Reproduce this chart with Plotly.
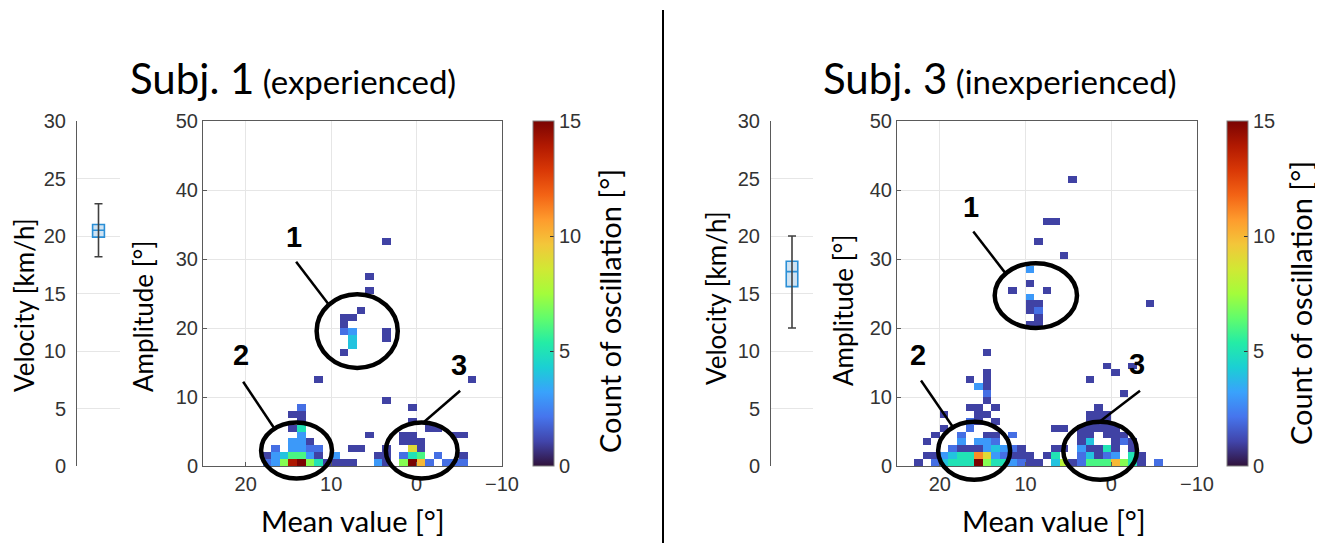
import numpy as np
import plotly.graph_objects as go

W, H = 1323, 551
OFF = 8                       # default page margin of the html body
FW, FH = W - OFF, H - 2 * OFF  # figure size so that it fits the window exactly

# ---------------- data ----------------
# velocity box statistics [km/h]
vel1_stats = dict(lower=18.2, q1=19.9, median=20.5, q3=21.0, upper=22.8)
vel3_stats = dict(lower=12.0, q1=15.6, median=16.9, q3=17.8, upper=20.0)

# 2-D histogram cells: bin lower edge of mean value [deg], bin lower edge of amplitude [deg], count
subj1_mean = [3, 5, 5, 6, 8, 7, 8, 8, 7, 7, 7, 8, 3, 3, 11, -7, 3, 0, 0,
              13, 14, 13, 13, 14, 13, 13, 14, 13, 12,
              16, 14, 13, 12, 11,
              17, 16, 15, 14, 13, 12, 11, 9,
              17, 16, 15, 14, 13, 12, 11, 10, 9, 8, 7,
              -2, -3, 5, 1, 0, -5, -6, 1, 0, -1,
              7, 6, 3, 0, -1,
              4, 3, 1, 0, -1, -3, -6,
              4, 3, 1, 0, -1, -2, -4, -5, -6]
subj1_amp = [32, 27, 25, 22, 21, 21, 20, 19, 19, 18, 17, 16, 19, 18, 12, 12, 9, 8, 6,
             8, 7, 7, 6, 5, 5, 4, 3, 3, 3,
             2, 2, 2, 2, 2,
             1, 1, 1, 1, 1, 1, 1, 1,
             0, 0, 0, 0, 0, 0, 0, 0, 0, 0, 0,
             5, 5, 4, 4, 4, 4, 4, 3, 3, 3,
             2, 2, 2, 2, 2,
             1, 1, 1, 1, 1, 1, 1,
             0, 0, 0, 0, 0, 0, 0, 0, 0]
subj1_count = [1, 1, 1, 1, 1, 1, 1, 2, 3, 4, 4, 1, 1, 1, 1, 1, 1, 1, 1,
               2, 1, 1, 1, 1, 5, 3, 3, 3, 1,
               2, 3, 3, 2, 2,
               1, 3, 4, 6, 6, 3, 1, 3,
               2, 3, 7, 14, 15, 7, 5, 1, 1, 1, 1,
               1, 1, 1, 1, 1, 1, 1, 1, 1, 1,
               1, 1, 1, 9, 1,
               1, 1, 2, 5, 6, 2, 1,
               3, 1, 7, 15, 10, 2, 2, 2, 2]

subj3_mean = [4, 7, 6, 8, 5, 9, 9, 11, 7, 9, 9, 8, 9, 8, 8, 9, 8, -5,
              14, 14, 16, 14, 15, 14, 14, 14,
              16, 15, 13, 19, 15, 14, 16, 15, 13, 19, 16,
              20, 17, 14, 13, 11,
              21, 17, 15, 14, 13,
              18, 17, 16, 15, 14, 13, 12, 11, 10,
              21, 20, 19, 18, 17, 16, 15, 14, 13, 12, 11, 10, 9,
              22, 20, 19, 18, 17, 16, 15, 14, 13, 12, 11, 10, 9, 8,
              0, -3, -1, 2, -2, 1, 2, 1, 0, 2, 1, 0,
              6, 5, 3, 2, 1, 0, -1, 3, 2, 0, -1, -2,
              3, 2, -1, -2, -3,
              6, 5, 3, 2, 1, 0, -1, -3,
              7, 6, 3, 2, 1, 0, -1, -3, -4,
              6, 5, 4, 3, 2, 1, 0, -1, -2, -3, -4, -6]
subj3_amp = [41, 35, 35, 32, 30, 28, 26, 25, 25, 24, 23, 23, 22, 22, 21, 20, 20, 23,
             16, 13, 12, 12, 11, 11, 10, 9,
             8, 8, 8, 7, 7, 7, 6, 6, 6, 5, 5,
             4, 4, 4, 4, 4,
             3, 3, 3, 3, 3,
             2, 2, 2, 2, 2, 2, 2, 2, 2,
             1, 1, 1, 1, 1, 1, 1, 1, 1, 1, 1, 1, 1,
             0, 0, 0, 0, 0, 0, 0, 0, 0, 0, 0, 0, 0, 0,
             14, 14, 13, 12, 10, 8, 7, 7, 7, 6, 6, 6,
             5, 5, 5, 5, 5, 5, 5, 4, 4, 4, 4, 4,
             3, 3, 3, 3, 3,
             2, 2, 2, 2, 2, 2, 2, 2,
             1, 1, 1, 1, 1, 1, 1, 1, 1,
             0, 0, 0, 0, 0, 0, 0, 0, 0, 0, 0, 0]
subj3_count = [1, 1, 1, 1, 1, 3, 1, 1, 1, 3, 1, 1, 1, 2, 1, 1, 1, 1,
               1, 1, 1, 1, 3, 1, 2, 1,
               1, 1, 1, 1, 1, 1, 2, 1, 1, 1, 2,
               1, 2, 1, 1, 2,
               1, 3, 3, 3, 2,
               2, 1, 1, 1, 3, 4, 3, 2, 1,
               1, 1, 3, 4, 5, 5, 11, 9, 3, 2, 1, 1, 1,
               1, 2, 4, 5, 5, 5, 15, 7, 5, 5, 3, 2, 1, 1,
               1, 1, 1, 1, 1, 1, 1, 1, 1, 1, 1, 1,
               1, 1, 1, 1, 1, 1, 1, 1, 1, 1, 1, 1,
               1, 4, 1, 2, 1,
               1, 1, 3, 1, 1, 5, 1, 1,
               1, 5, 2, 4, 1, 2, 3, 5, 1,
               4, 8, 1, 2, 6, 6, 6, 10, 7, 5, 1, 2]

mean_edges = list(range(-10, 26))   # mean value bins [deg]
amp_edges = list(range(0, 51))      # amplitude bins [deg]

def grid(means, amps, counts):
    xc = [e + 0.5 for e in mean_edges[:-1]]
    yc = [e + 0.5 for e in amp_edges[:-1]]
    z = np.full((len(yc), len(xc)), np.nan)
    for m, a, c in zip(means, amps, counts):
        z[a - amp_edges[0], m - mean_edges[0]] = c
    return xc, yc, z

# ---------------- layout helpers (window pixel -> paper fraction) ----------------
def fx(p):
    return (p - OFF) / FW

def fy(p):
    return 1 - (p - OFF) / FH

TOP, BOT = 121, 466
YDOM = [fy(BOT), fy(TOP)]
BOX1 = [77, 120]
HM1 = [203, 502]
BOX2 = [771, 813]
HM2 = [897, 1197]
XR = [25, -10]
YR = [0, 50]

TICKFONT = dict(family="Liberation Sans, Arial", size=20, color="#333333")

def hx(dom, v):
    return fx(dom[0] + (XR[0] - v) / (XR[0] - XR[1]) * (dom[1] - dom[0]))

def hy(a):
    return fy(BOT - (a - YR[0]) / (YR[1] - YR[0]) * (BOT - TOP))

fig = go.Figure()

def add_box(stats, xa, ya):
    fig.add_trace(go.Scatter(
        x=[0], y=[stats["median"]], mode="markers", marker=dict(size=1, color="rgba(0,0,0,0)"),
        error_y=dict(type="data", symmetric=False,
                     array=[stats["upper"] - stats["median"]],
                     arrayminus=[stats["median"] - stats["lower"]],
                     color="#404040", thickness=1.6, width=4),
        xaxis=xa, yaxis=ya, showlegend=False, hoverinfo="skip"))
    fig.add_trace(go.Box(
        x=[0], q1=[stats["q1"]], median=[stats["median"]], q3=[stats["q3"]],
        lowerfence=[stats["q1"]], upperfence=[stats["q3"]],
        width=0.55, fillcolor="#cfe3f3", line=dict(color="#2b8fd6", width=1.6),
        whiskerwidth=0, xaxis=xa, yaxis=ya, showlegend=False, hoverinfo="skip"))

def add_heat(means, amps, counts, xa, ya, cbx):
    xc, yc, z = grid(means, amps, counts)
    fig.add_trace(go.Heatmap(
        x=xc, y=yc, z=z, zmin=0, zmax=15, colorscale="Turbo",
        xaxis=xa, yaxis=ya, hoverongaps=False,
        colorbar=dict(x=fx(cbx), xanchor="left", xpad=0, ypad=0,
                      y=fy(BOT), yanchor="bottom", len=BOT - TOP, lenmode="pixels",
                      thickness=21, thicknessmode="pixels",
                      outlinecolor="#808080", outlinewidth=1,
                      tickvals=[0, 5, 10, 15], ticks="inside", ticklen=4, tickcolor="#333",
                      tickfont=TICKFONT)))

add_box(vel1_stats, "x", "y")
add_heat(subj1_mean, subj1_amp, subj1_count, "x2", "y2", 533)
add_box(vel3_stats, "x3", "y3")
add_heat(subj3_mean, subj3_amp, subj3_count, "x4", "y4", 1227)

box_x = dict(range=[-1, 1], visible=False, fixedrange=True)
box_y = dict(range=[0, 30], tickvals=[0, 5, 10, 15, 20, 25, 30], showgrid=True,
             gridcolor="#e6e6e6", gridwidth=1, showline=True, linecolor="#5a5a5a", linewidth=1,
             ticks="", tickfont=TICKFONT, zeroline=False, ticklabelstandoff=6)
hm_x = dict(range=XR, tickvals=[20, 10, 0, -10], showgrid=True, gridcolor="#e6e6e6",
            showline=True, mirror=True, linecolor="#5a5a5a", linewidth=1,
            ticks="inside", ticklen=4, tickcolor="#5a5a5a", tickfont=TICKFONT, zeroline=False)
hm_y = dict(range=YR, tickvals=[0, 10, 20, 30, 40, 50], showgrid=True, gridcolor="#e6e6e6",
            showline=True, mirror=True, linecolor="#5a5a5a", linewidth=1,
            ticks="inside", ticklen=4, tickcolor="#5a5a5a", tickfont=TICKFONT, zeroline=False)

fig.update_layout(
    width=FW, height=FH, margin=dict(l=0, r=0, t=0, b=0, autoexpand=False),
    paper_bgcolor="white", plot_bgcolor="white",
    xaxis=dict(domain=[fx(BOX1[0]), fx(BOX1[1])], anchor="y", **box_x),
    yaxis=dict(domain=YDOM, anchor="x", **box_y),
    xaxis2=dict(domain=[fx(HM1[0]), fx(HM1[1])], anchor="y2", **hm_x),
    yaxis2=dict(domain=YDOM, anchor="x2", **hm_y),
    xaxis3=dict(domain=[fx(BOX2[0]), fx(BOX2[1])], anchor="y3", **box_x),
    yaxis3=dict(domain=YDOM, anchor="x3", **box_y),
    xaxis4=dict(domain=[fx(HM2[0]), fx(HM2[1])], anchor="y4", **hm_x),
    yaxis4=dict(domain=YDOM, anchor="x4", **hm_y),
)

ann = []
def text(x, y, s, size=26, angle=0, family="Lato, Carlito, Calibri"):
    ann.append(dict(x=x, y=y, xref="paper", yref="paper", text=s, showarrow=False,
                    textangle=angle, xanchor="center", yanchor="middle",
                    font=dict(family=family, size=size, color="black")))

# titles
text(fx(293), fy(78), "<span style='font-size:42px'>Subj. 1</span> (experienced)", size=33)
text(fx(1000), fy(78), "<span style='font-size:42px'>Subj. 3</span> (inexperienced)", size=33)
# axis labels
text(fx(24), fy(305), "Velocity [km/h]", angle=-90)
text(fx(143), fy(317), "Amplitude [°]", angle=-90)
text(fx(353), fy(520), "Mean value [°]", size=29)
text(fx(609), fy(311), "Count of oscillation [°]", size=29, angle=-90)
text(fx(716), fy(298), "Velocity [km/h]", angle=-90)
text(fx(843), fy(311), "Amplitude [°]", angle=-90)
text(fx(1054), fy(520), "Mean value [°]", size=29)
text(fx(1300), fy(303), "Count of oscillation [°]", size=29, angle=-90)

# cluster callouts: (label position, line start, line end, ellipse box) in data units
callouts1 = [("1", (14.4, 33.2), (14.1, 29.6), (10.35, 23.5), (11.7, 2.2, 14.2, 24.9)),
             ("2", (20.6, 16.1), (20.3, 12.2), (16.7, 5.55), (18.2, 9.9, -1.8, 6.3)),
             ("3", (-5.0, 14.6), (-5.1, 10.9), (-0.8, 6.3), (3.6, -4.8, -1.8, 6.3))]
callouts3 = [("1", (16.4, 37.6), (16.1, 34.0), (12.2, 27.7), (13.6, 4.0, 20.0, 29.4)),
             ("2", (22.5, 16.1), (22.2, 12.4), (18.5, 5.7), (20.2, 11.8, -2.0, 6.4)),
             ("3", (-3.0, 14.8), (-3.35, 10.9), (1.6, 6.2), (5.6, -3.0, -2.0, 6.4))]

shapes = []
for dom, calls in ((HM1, callouts1), (HM2, callouts3)):
    for lab, lp, l0, l1, el in calls:
        text(hx(dom, lp[0]), hy(lp[1]), "<b>" + lab + "</b>", size=29,
             family="Liberation Sans, Arial")
        shapes.append(dict(type="line", xref="paper", yref="paper",
                           x0=hx(dom, l0[0]), y0=hy(l0[1]), x1=hx(dom, l1[0]), y1=hy(l1[1]),
                           line=dict(color="black", width=2.5)))
        shapes.append(dict(type="circle", xref="paper", yref="paper",
                           x0=hx(dom, el[0]), x1=hx(dom, el[1]), y0=hy(el[2]), y1=hy(el[3]),
                           line=dict(color="black", width=4.5)))

# divider
shapes.append(dict(type="line", xref="paper", yref="paper", x0=fx(663), x1=fx(663),
                   y0=0, y1=fy(10), line=dict(color="black", width=2)))

fig.update_layout(annotations=ann, shapes=shapes)
fig.write_html("out.html")
